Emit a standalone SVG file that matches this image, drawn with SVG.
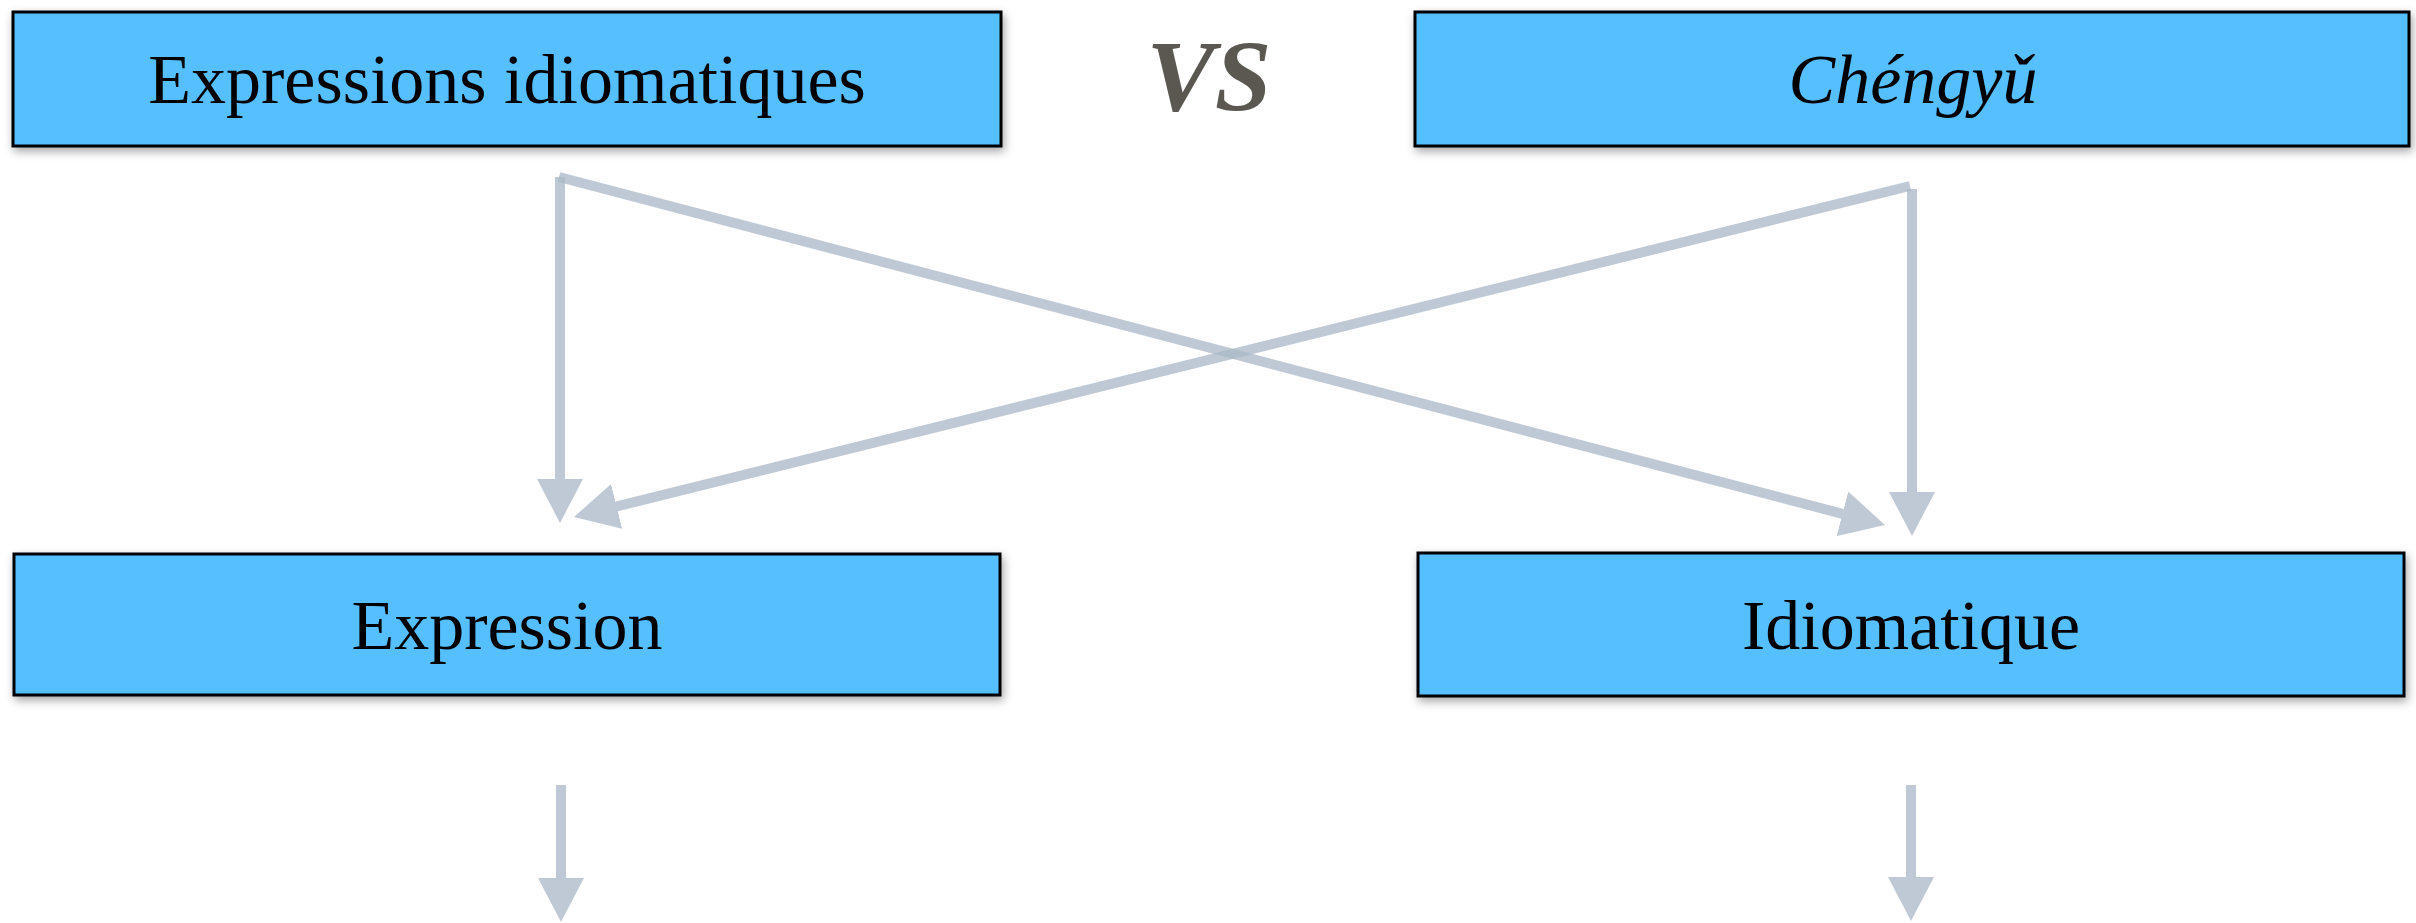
<svg xmlns="http://www.w3.org/2000/svg" width="2416" height="923" viewBox="0 0 2416 923">
  <style>
    .box { fill: #57bfff; stroke: #000; stroke-width: 3; filter: url(#shadow); }
    .label { font-family: "Liberation Serif", "Times New Roman", serif; font-size: 70px; fill: #000; text-anchor: middle; }
    .conn { fill: none; stroke: #aab8c7; stroke-width: 10; opacity: 0.75; marker-end: url(#head); }
  </style>
  <defs>
    <filter id="shadow" x="-5%" y="-20%" width="110%" height="150%">
      <feDropShadow dx="2" dy="4" stdDeviation="5" flood-color="#000" flood-opacity="0.35"/>
    </filter>
    <!-- triangular head; the shaft stops at its base -->
    <marker id="head" markerUnits="userSpaceOnUse" markerWidth="46" markerHeight="46" refX="4" refY="23" orient="auto">
      <path d="M0,0 L44,23 L0,46 Z" fill="#aab8c7"/>
    </marker>
  </defs>

  <rect width="2416" height="923" fill="#fff"/>

  <!-- connectors -->
  <g id="connectors">
    <path class="conn" d="M560,177 L560,483"/>
    <path class="conn" d="M559,177 L1846.3,514.8"/>
    <path class="conn" d="M1910,186 L612.8,507.4"/>
    <path class="conn" d="M1912,189 L1912,496"/>
    <path class="conn" d="M561,785 L561,882"/>
    <path class="conn" d="M1911,785 L1911,881"/>
  </g>

  <g id="node-expressions-idiomatiques">
    <rect class="box" x="13" y="12" width="988" height="134"/>
    <text class="label" x="507" y="103">Expressions idiomatiques</text>
  </g>

  <g id="node-vs">
    <text x="1209" y="111" font-family="'Liberation Serif', 'Times New Roman', serif" font-size="102" font-weight="bold" font-style="italic" fill="#5a5850" text-anchor="middle">VS</text>
  </g>

  <g id="node-chengyu">
    <rect class="box" x="1415" y="12" width="994" height="134"/>
    <text class="label" x="1913" y="103" font-style="italic">Chéngyǔ</text>
  </g>

  <g id="node-expression">
    <rect class="box" x="14" y="554" width="986" height="141"/>
    <text class="label" x="507" y="649">Expression</text>
  </g>

  <g id="node-idiomatique">
    <rect class="box" x="1418" y="553" width="986" height="143"/>
    <text class="label" x="1911" y="649">Idiomatique</text>
  </g>
</svg>
